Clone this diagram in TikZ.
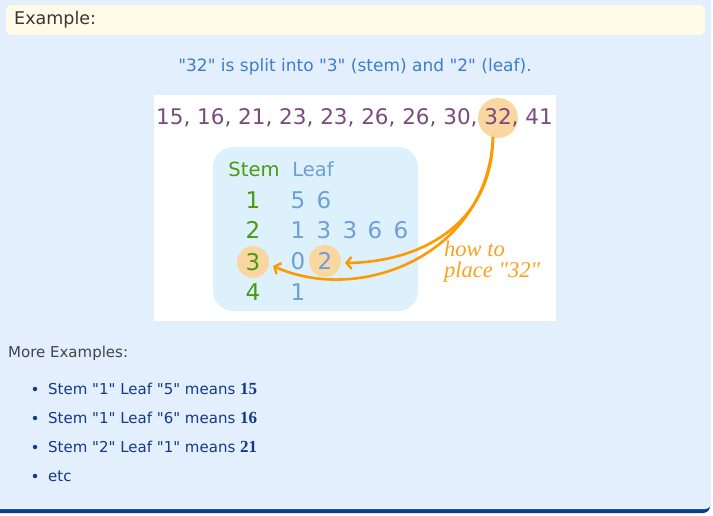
\documentclass[tikz,border=0pt]{standalone}
\usepackage{fontspec}
\newfontfamily\verd{DejaVu Sans}
\newfontfamily\serifit{Liberation Serif}
\usetikzlibrary{arrows.meta}
\definecolor{bgblue}{HTML}{E3EFFD}
\definecolor{hdryellow}{HTML}{FFFBE8}
\definecolor{subblue}{HTML}{3C7DD0}
\definecolor{numpurple}{HTML}{7A4B7E}
\definecolor{circorange}{HTML}{FAD7A0}
\definecolor{tablebox}{HTML}{DDF1FD}
\definecolor{stemgreen}{HTML}{4B9A0E}
\definecolor{leafblue}{HTML}{6F9FD6}
\definecolor{arrorange}{HTML}{FF9900}
\definecolor{txtorange}{HTML}{F9A21E}
\definecolor{listblue}{HTML}{12398A}
\definecolor{shadowblue}{HTML}{0B3D8F}
\definecolor{greytext}{HTML}{444444}
\tikzset{
  stemd/.style={text=stemgreen, font=\verd\fontsize{23}{25}\selectfont, inner sep=0pt},
  leafd/.style={text=leafblue, font=\verd\fontsize{23}{25}\selectfont, inner sep=0pt},
  hl/.style={fill=circorange, draw=none},
  curvearrow/.style={draw=arrorange, line width=2.6pt, -{Straight Barb[length=5pt,width=12pt,line width=2.4pt]}},
  listitem/.style={anchor=west, text=listblue, font=\verd\fontsize{15}{17}\selectfont, inner sep=0pt},
  bulletdot/.style={circle, fill=listblue, inner sep=0pt, minimum size=4.5pt}
}
\begin{document}
\begin{tikzpicture}[x=1pt,y=-1pt]
\useasboundingbox (0,0) rectangle (713,516);
\fill[white] (0,0) rectangle (713,516);
% outer panel with shadow
\fill[shadowblue, rounded corners=7pt] (-10,470) rectangle (710,513);
\fill[bgblue, rounded corners=6pt] (-10,-10) rectangle (711,509);
% header
\fill[hdryellow, rounded corners=6pt] (6,5) rectangle (705,35);
\node[anchor=west, text=greytext!80!black, font=\verd\fontsize{17.5}{19}\selectfont, inner sep=0pt] (hdr) at (14,20) {Example:};
% subtitle
\node[text=subblue, font=\verd\fontsize{17}{19}\selectfont, inner sep=0pt] (sub) at (355,67) {"32" is split into "3" (stem) and "2" (leaf).};
% white panel
\fill[white] (154,95) rectangle (556,321);
% highlight circle behind 32
\node[hl, circle, minimum size=40pt] (c32) at (498,118) {};
\node[text=numpurple, font=\verd\fontsize{21.5}{24}\selectfont, inner sep=0pt] (nums) at (354.5,118) {15, 16, 21, 23, 23, 26, 26, 30, 32, 41};
% table box
\fill[tablebox, rounded corners=20pt] (213,147) rectangle (418,311);
\node[text=stemgreen, font=\verd\fontsize{19.5}{21}\selectfont, inner sep=0pt] (stemh) at (254,169) {Stem};
\node[text=leafblue, font=\verd\fontsize{19.5}{21}\selectfont, inner sep=0pt] (leafh) at (313,169) {Leaf};
% highlight circles
\node[hl, circle, minimum size=32pt] (c3) at (253,262) {};
\node[hl, circle, minimum size=32pt] (c2) at (325,261) {};
% stems
\node[stemd] (s1) at (253,200) {1};
\node[stemd] (s2) at (253,230) {2};
\node[stemd] (s3) at (253,262) {3};
\node[stemd] (s4) at (253,292) {4};
% leaves
\node[leafd] (l11) at (298,200) {5};
\node[leafd] (l12) at (324,200) {6};
\node[leafd] (l21) at (298,230) {1};
\node[leafd] (l22) at (324,230) {3};
\node[leafd] (l23) at (350,230) {3};
\node[leafd] (l24) at (375,230) {6};
\node[leafd] (l25) at (401,230) {6};
\node[leafd] (l31) at (298,261) {0};
\node[leafd] (l32) at (325,261) {2};
\node[leafd] (l41) at (298,292) {1};
% arrows
\coordinate (astart) at (493,137);
\coordinate (tip2) at (345,263);
\coordinate (tip3) at (273,266);
\draw[curvearrow] (astart) .. controls (492,225) and (420,262) .. (tip2);
\draw[curvearrow] (astart) .. controls (488,255) and (360,305) .. (tip3);
% label
\node[text=txtorange, font=\serifit\itshape\fontsize{22.5}{22}\selectfont, anchor=west, inner sep=0pt, align=left] (how) at (444,262) {how to\\[-1pt]place "32"};
% more examples
\node[anchor=west, text=greytext, font=\verd\fontsize{15}{17}\selectfont, inner sep=0pt] (more) at (8,353) {More Examples:};
\node[bulletdot] (b1) at (35,389) {};
\node[listitem] (i1) at (48,389) {Stem "1" Leaf "5" means {\serifit\bfseries\fontsize{17}{17}\selectfont 15}};
\node[bulletdot] (b2) at (35,418) {};
\node[listitem] (i2) at (48,418) {Stem "1" Leaf "6" means {\serifit\bfseries\fontsize{17}{17}\selectfont 16}};
\node[bulletdot] (b3) at (35,447) {};
\node[listitem] (i3) at (48,447) {Stem "2" Leaf "1" means {\serifit\bfseries\fontsize{17}{17}\selectfont 21}};
\node[bulletdot] (b4) at (35,476) {};
\node[listitem] (i4) at (48,476) {etc};
\end{tikzpicture}
\end{document}
